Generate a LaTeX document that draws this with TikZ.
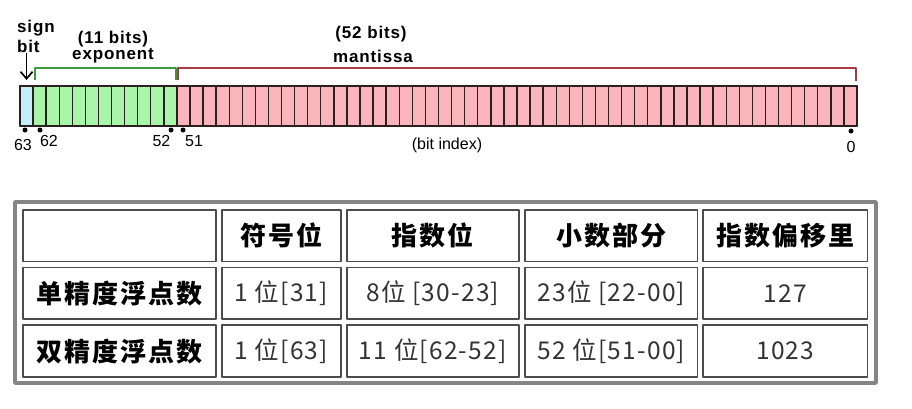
\documentclass[tikz,border=0pt]{standalone}
\usepackage{fontspec}
\setsansfont{Liberation Sans}
\newfontfamily\cjk{Noto Sans CJK SC}
\usetikzlibrary{arrows.meta}
\definecolor{signblue}{HTML}{C6EEF8}
\definecolor{expgreen}{HTML}{A9F5A9}
\definecolor{manpink}{HTML}{FAB4BC}
\definecolor{brkgreen}{HTML}{3C9A3C}
\definecolor{brkred}{HTML}{A83A44}
\definecolor{bitline}{HTML}{2B1F1F}
\definecolor{tabgray}{HTML}{858585}
\definecolor{txtgray}{HTML}{333333}
\begin{document}
\begin{tikzpicture}[x=1pt,y=-1pt,line join=round,>={Straight Barb[length=7pt,width=12pt]}]
  \tikzset{bitfield/.style={draw=bitline,line width=1.6pt,inner sep=0pt,outer sep=0pt,minimum height=40pt,anchor=north west},
    hdr/.style={font=\sffamily\bfseries\fontsize{17}{20}\selectfont\addfontfeature{LetterSpace=5},inner sep=0pt,anchor=base},
    idx/.style={font=\sffamily\fontsize{16}{16}\selectfont,inner sep=0pt,anchor=base},
    cell/.style={draw=black!70,line width=1.6pt,inner sep=0pt},
    head/.style={cell,font=\cjk\bfseries\fontsize{26}{26}\selectfont\addfontfeature{LetterSpace=8}},
    data/.style={cell,text=txtgray,font=\cjk\fontsize{24.5}{24.5}\selectfont\addfontfeature{LetterSpace=5}}}
  \useasboundingbox (0,0) rectangle (912,408);
  % bit layout
  \node[bitfield,fill=signblue,minimum width=13.08pt] (sgn) at (20,86) {};
  \node[bitfield,fill=expgreen,minimum width=143.86pt] (expo) at (sgn.north east) {};
  \node[bitfield,fill=manpink,minimum width=680.06pt] (mant) at (expo.north east) {};
  \foreach \i in {1,...,63}
    \draw[bitline,line width=1.4pt] ({20+13.078*\i},86) -- ++(0,40);
  \draw[bitline,line width=1.8pt] (sgn.north west) rectangle (mant.south east);
  \node[hdr,align=left,anchor=north west] (signlbl) at (17,20) {sign\\bit};
  \draw[->,line width=1.7pt] (signlbl.south -| sgn.center) -- ([yshift=6pt]sgn.north);
  \node[hdr] (expbits) at (113,43) {(11 bits)};
  \node[hdr] (explbl) at (113,59) {exponent};
  \node[hdr] (manbits) at (371,38) {(52 bits)};
  \node[hdr] (manlbl) at (373,62) {mantissa};
  \draw[brkgreen,line width=1.2pt] ([shift={(2,-6)}]expo.north west) |- ([shift={(-1,-18)}]expo.north east) -- ([shift={(-1,-6)}]expo.north east);
  \draw[brkred,line width=1.2pt] ([shift={(1,-6)}]mant.north west) |- ([shift={(-1,-18)}]mant.north east) -- ([shift={(-1,-5)}]mant.north east);
  % bit index
  \fill (25,130) circle (2.5pt) (40,130) circle (2.5pt) (171,130) circle (2.5pt) (183,130) circle (2.5pt) (851,131) circle (2.5pt);
  \node[idx] (i63) at (23,150) {63};
  \node[idx] (i62) at (49,146) {62};
  \node[idx] (i52) at (161.5,146) {52};
  \node[idx] (i51) at (194,146) {51};
  \node[idx] (i0) at (851,152) {0};
  \node[idx] (bitidx) at (447,149) {(bit index)};
  % table
  \draw[tabgray,line width=3.5pt] (15,202) rectangle (876,383);
  \node[head,minimum width=193pt,minimum height=51.5pt] (c00) at (119.3,235.8) {};
  \node[head,minimum width=119pt,minimum height=51.5pt] (c01) at (281.2,235.8) {符号位};
  \node[head,minimum width=172pt,minimum height=51.5pt] (c02) at (432.8,235.8) {指数位};
  \node[head,minimum width=172.5pt,minimum height=51.5pt] (c03) at (611.3,235.8) {小数部分};
  \node[head,minimum width=164.5pt,minimum height=51.5pt] (c04) at (785.3,235.8) {指数偏移里};
  \node[head,minimum width=193pt,minimum height=51.5pt] (c10) at (119.3,293.2) {单精度浮点数};
  \node[data,minimum width=119pt,minimum height=51.5pt] (c11) at (281.2,293.2) {1 位[31]};
  \node[data,minimum width=172pt,minimum height=51.5pt] (c12) at (432.8,293.2) {8位 [30-23]};
  \node[data,minimum width=172.5pt,minimum height=51.5pt] (c13) at (611.3,293.2) {23位 [22-00]};
  \node[data,minimum width=164.5pt,minimum height=51.5pt] (c14) at (785.3,293.2) {127};
  \node[head,minimum width=193pt,minimum height=52pt] (c20) at (119.3,351.2) {双精度浮点数};
  \node[data,minimum width=119pt,minimum height=52pt] (c21) at (281.2,351.2) {1 位[63]};
  \node[data,minimum width=172pt,minimum height=52pt] (c22) at (432.8,351.2) {11 位[62-52]};
  \node[data,minimum width=172.5pt,minimum height=52pt] (c23) at (611.3,351.2) {52 位[51-00]};
  \node[data,minimum width=164.5pt,minimum height=52pt] (c24) at (785.3,351.2) {1023};
\end{tikzpicture}
\end{document}
